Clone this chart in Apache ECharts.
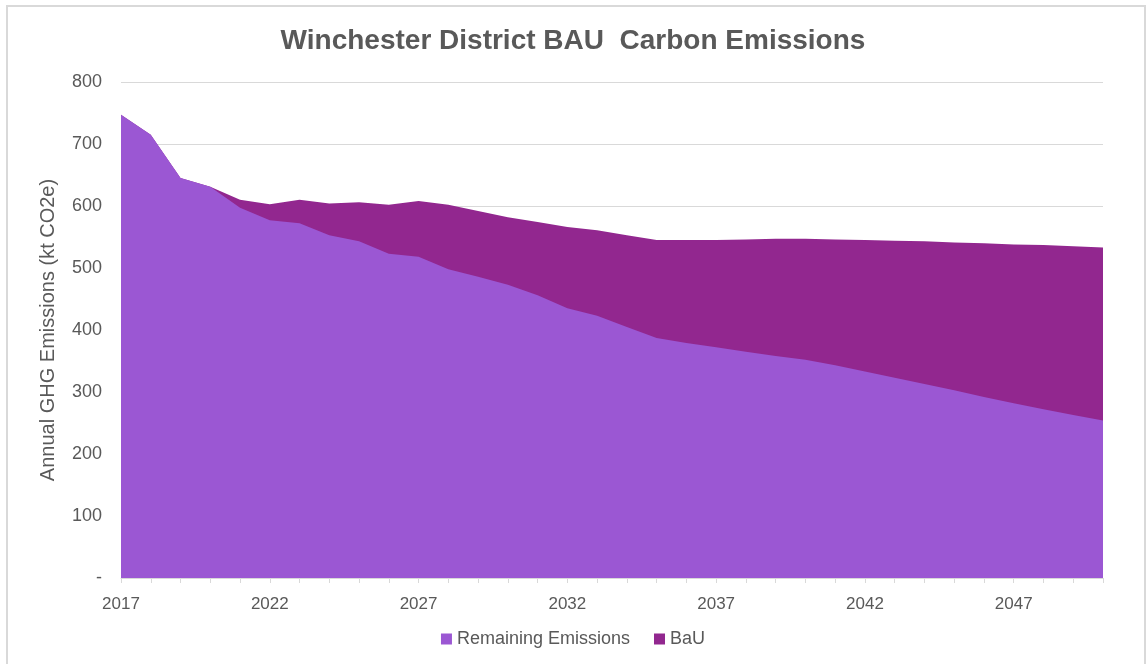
<!DOCTYPE html>
<html>
<head>
<meta charset="utf-8">
<script src="https://cdn.jsdelivr.net/npm/echarts@6/dist/echarts.min.js"></script>
<style>
  html, body { margin: 0; padding: 0; background: #fff; }
  #frame { position: absolute; left: 6px; top: 5px; width: 1136px; height: 670px; border: 2px solid #d9d9d9; }
  #chart { position: absolute; left: 0; top: 0; width: 1146px; height: 664px; }
</style>
</head>
<body>
<div id="frame"></div>
<div id="chart"></div>
<script>
// years on the x axis
var years = []
for (var y = 2017; y <= 2050; y++) years.push(String(y))

// business as usual total (top of the dark area)
var bauTotal = [747, 715, 645, 631, 610, 603, 610, 604, 606, 602,
  608, 602, 592, 582, 574, 566, 561, 553, 545, 545,
  545, 546, 547, 547, 546, 545, 544, 543, 541, 540,
  538, 537, 535, 533]

// remaining emissions (light area)
var remaining = [747, 715, 645, 631, 597, 577, 572, 553, 543, 523,
  518, 498, 486, 473, 456, 435, 423, 405, 387, 379,
  372, 365, 358, 352, 343, 333, 323, 313, 303, 292,
  282, 272, 263, 254]

var yTicks = [0, 100, 200, 300, 400, 500, 600, 700, 800]

var chart = echarts.init(document.getElementById('chart'))
var textColor = '#595959'
var font = 'Liberation Sans, Arial, sans-serif'

chart.setOption({
  animation: false,
  title: {
    text: 'Winchester District BAU  Carbon Emissions',
    left: 'center',
    top: 22,
    textStyle: { fontFamily: font, fontSize: 28, fontWeight: 'bold', color: textColor }
  },
  legend: {
    data: ['Remaining Emissions', 'BaU'],
    bottom: 11,
    left: 'center',
    itemWidth: 11,
    itemHeight: 11,
    itemGap: 24,
    icon: 'rect',
    textStyle: { fontFamily: font, fontSize: 18, color: textColor }
  },
  grid: { left: 121, right: 43, top: 82, bottom: 86 },
  xAxis: {
    type: 'category',
    data: years,
    boundaryGap: false,
    axisLine: { lineStyle: { color: '#d9d9d9' } },
    axisTick: { interval: 0, length: 5, lineStyle: { color: '#d9d9d9' } },
    axisLabel: { interval: 4, color: textColor, fontFamily: font, fontSize: 17, margin: 18 }
  },
  yAxis: {
    type: 'value',
    min: yTicks[0],
    max: yTicks[yTicks.length - 1],
    interval: 100,
    name: 'Annual GHG Emissions (kt CO2e)',
    nameLocation: 'middle',
    nameGap: 63,
    nameTextStyle: { fontFamily: font, fontSize: 20, color: textColor },
    axisLine: { show: false },
    axisTick: { show: false },
    splitLine: { lineStyle: { color: '#d9d9d9', width: 1 } },
    axisLabel: {
      color: textColor, fontFamily: font, fontSize: 18, margin: 19,
      formatter: function (v) { return v === 0 ? '-' : String(v) }
    }
  },
  series: [
    {
      name: 'BaU',
      type: 'line',
      data: bauTotal,
      symbol: 'none',
      lineStyle: { width: 0 },
      itemStyle: { color: '#92278f' },
      areaStyle: { color: '#92278f', opacity: 1 },
      z: 2
    },
    {
      name: 'Remaining Emissions',
      type: 'line',
      data: remaining,
      symbol: 'none',
      lineStyle: { width: 0 },
      itemStyle: { color: '#9b57d3' },
      areaStyle: { color: '#9b57d3', opacity: 1 },
      z: 3
    }
  ]
})
</script>
</body>
</html>
